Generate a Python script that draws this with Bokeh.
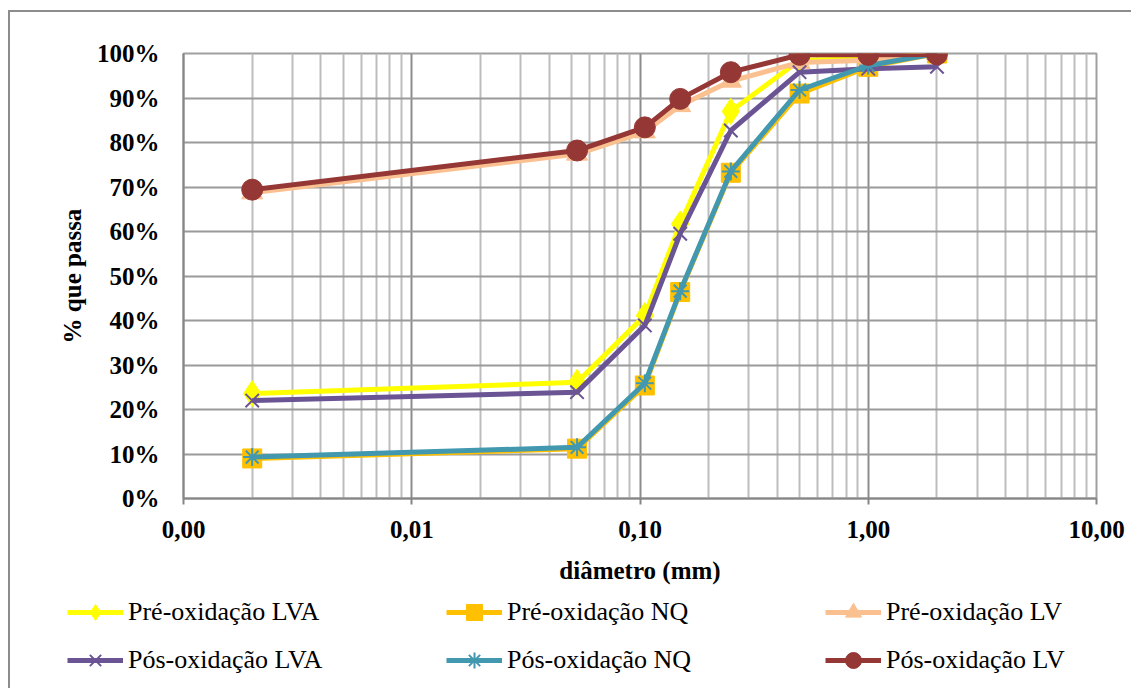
import numpy as np
from bokeh.plotting import figure
from bokeh.models import (FixedTicker, CustomJSTickFormatter, Legend, LegendItem, Range1d)
from bokeh.embed import file_html
from bokeh.resources import INLINE

# ---- data ----
diametro = [0.002, 0.053, 0.105, 0.15, 0.25, 0.5, 1.0, 2.0]
pre_lva = [23.6, 26.1, 41.1, 61.7, 87.0, 98.5, 98.8, 100.0]
pre_nq = [9.0, 11.2, 25.4, 46.4, 73.2, 91.0, 97.0, 100.0]
pre_lv = [68.7, 77.4, 82.4, 88.3, 93.8, 98.0, 98.5, 100.0]
pos_lva = [22.0, 23.9, 38.9, 59.5, 82.7, 95.8, 96.6, 97.0]
pos_nq = [9.3, 11.5, 25.9, 46.6, 73.5, 91.8, 97.3, 100.0]
pos_lv = [69.4, 78.2, 83.4, 89.8, 95.8, 99.7, 99.7, 99.8]

series_names = ["Pré-oxidação LVA", "Pré-oxidação NQ", "Pré-oxidação LV",
                "Pós-oxidação LVA", "Pós-oxidação NQ", "Pós-oxidação LV"]
series_values = [pre_lva, pre_nq, pre_lv, pos_lva, pos_nq, pos_lv]
series_colors = ["#FFFF00", "#FFC000", "#FAC090", "#6B5494", "#4298AE", "#953735"]
series_markers = ["diamond", "square", "triangle", "x", "asterisk", "circle"]
series_sizes = [26, 19, 21, 19, 18, 21]

xtick_vals = [0.001, 0.01, 0.1, 1.0, 10.0]
xtick_labels = ["0,00", "0,01", "0,10", "1,00", "10,00"]
ytick_vals = list(range(0, 101, 10))
ytick_labels = [f"{v}%" for v in ytick_vals]

FONT = "Liberation Serif"
BORDER = "#8c8c8c"

p = figure(width=1131, height=588, x_axis_type="log",
           x_range=Range1d(0.001, 10), y_range=Range1d(0, 100),
           output_backend="svg", toolbar_location=None,
           min_border_left=183, min_border_right=35,
           min_border_top=53, min_border_bottom=90)
p.border_fill_color = None
p.styles = {
    "background": f"linear-gradient({BORDER},{BORDER}) 8px 10px / 2px 100% no-repeat, "
                  f"linear-gradient({BORDER},{BORDER}) 8px 10px / 100% 2px no-repeat, white",
}

minor = [k * 10.0 ** e for e in range(-3, 1) for k in range(2, 10)]
p.xaxis.ticker = FixedTicker(ticks=xtick_vals, minor_ticks=minor)
p.xaxis.formatter = CustomJSTickFormatter(args=dict(vals=xtick_vals, labels=xtick_labels), code="""
for (let i = 0; i < vals.length; i++) { if (Math.abs(Math.log10(tick) - Math.log10(vals[i])) < 1e-6) return labels[i]; }
return '';
""")
p.yaxis.ticker = FixedTicker(ticks=ytick_vals)
p.yaxis.formatter = CustomJSTickFormatter(args=dict(vals=ytick_vals, labels=ytick_labels), code="""
for (let i = 0; i < vals.length; i++) { if (Math.abs(tick - vals[i]) < 1e-6) return labels[i]; }
return '';
""")

for ax in (p.xaxis, p.yaxis):
    ax.axis_line_color = "#868686"
    ax.axis_line_width = 2
    ax.major_tick_line_color = "#868686"
    ax.major_tick_line_width = 2
    ax.minor_tick_line_color = None
    ax.major_label_text_font = FONT
    ax.major_label_text_font_style = "bold"
    ax.major_label_text_font_size = "25px"
    ax.major_label_text_color = "black"
    ax.axis_label_text_font = FONT
    ax.axis_label_text_font_style = "bold"
    ax.axis_label_text_font_size = "25px"
    ax.axis_label_text_color = "black"

p.xaxis.major_tick_out = 6
p.xaxis.major_tick_in = 0
p.xaxis.major_label_standoff = 16
p.xaxis.axis_label = "diâmetro (mm)"
p.xaxis.axis_label_standoff = 16
p.yaxis.major_tick_out = 0
p.yaxis.major_tick_in = 0
p.yaxis.major_label_standoff = 24
p.yaxis.axis_label = "% que passa"
p.yaxis.axis_label_standoff = 8

p.xgrid.grid_line_color = "#8c8c8c"
p.xgrid.grid_line_width = 2
p.xgrid.minor_grid_line_color = "#bdbdbd"
p.xgrid.minor_grid_line_width = 2
p.ygrid.grid_line_color = "#9a9a9a"
p.ygrid.grid_line_width = 2

p.outline_line_color = "#a0a0a0"
p.outline_line_width = 2
p.background_fill_color = "white"

# legend figure (same series drawn outside its visible range, only the legend shows)
lg = figure(width=1131, height=100, x_range=Range1d(0.001, 10), y_range=Range1d(1000, 1100),
            output_backend="svg", toolbar_location=None,
            min_border_left=0, min_border_right=0, min_border_top=0, min_border_bottom=0)
lg.axis.visible = False
lg.grid.visible = False
lg.outline_line_color = None
lg.background_fill_color = None
lg.border_fill_color = None
lg.styles = {
    "background": f"linear-gradient({BORDER},{BORDER}) 8px 0px / 2px 100% no-repeat, white",
}

items = {}
for name, vals, col, mk, sz in zip(series_names, series_values, series_colors, series_markers, series_sizes):
    for fig in (p, lg):
        lr = fig.line(diametro, vals, line_color=col, line_width=5)
        if mk in ("x", "asterisk"):
            sr = fig.scatter(diametro, vals, marker=mk, size=sz, line_color=col, line_width=2)
        else:
            sr = fig.scatter(diametro, vals, marker=mk, size=sz, fill_color=col, line_color=col)
    items[name] = LegendItem(label=name, renderers=[lr, sr])

# legend fills column by column: order so rows read Pré... / Pós...
order = [0, 3, 1, 4, 2, 5]
legend = Legend(items=[items[series_names[i]] for i in order], ncols=3, location=(67, 8),
                glyph_width=56, glyph_height=40, label_width=310, label_height=40,
                label_standoff=5, spacing=8, padding=0, margin=0,
                label_text_font="'Liberation Serif', 'Times New Roman', serif",
                label_text_font_size="26px",
                label_text_color="black",
                border_line_alpha=0, background_fill_alpha=0)
lg.add_layout(legend, "center")

open("out.html", "w").write(file_html([p, lg], INLINE))
